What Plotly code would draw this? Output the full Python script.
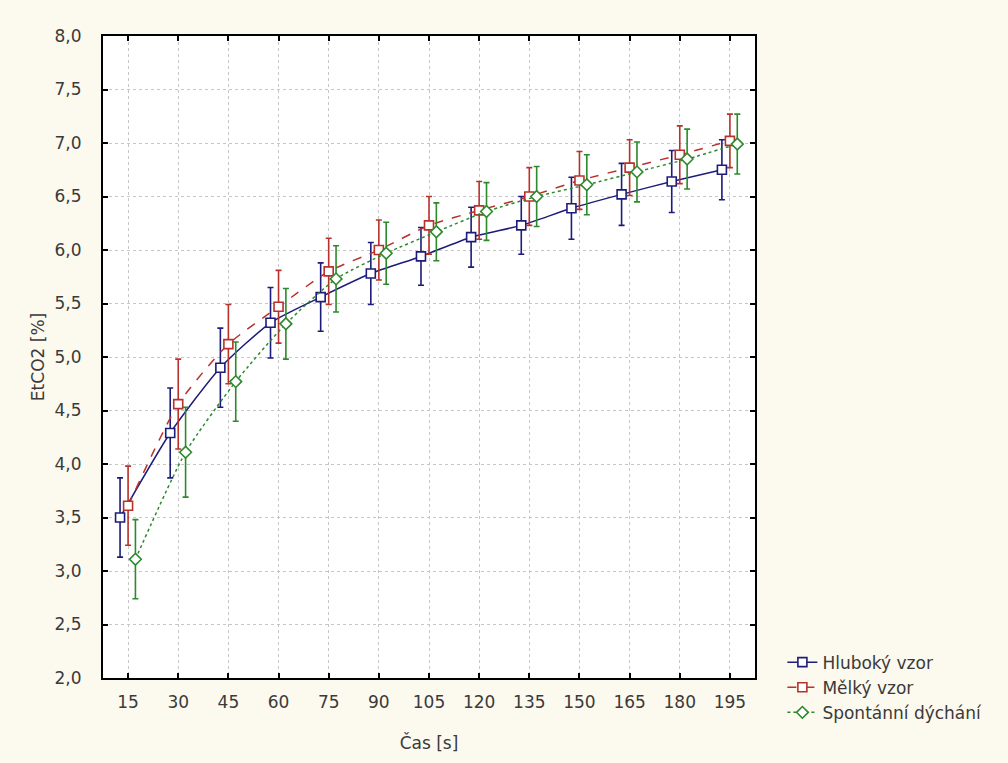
import plotly.graph_objects as go

times = [15, 30, 45, 60, 75, 90, 105, 120, 135, 150, 165, 180, 195]

hluboky = [3.50, 4.29, 4.90, 5.32, 5.56, 5.78, 5.94, 6.12, 6.23, 6.39, 6.52, 6.64, 6.75]
hluboky_err = [0.37, 0.42, 0.37, 0.33, 0.32, 0.29, 0.27, 0.28, 0.27, 0.29, 0.29, 0.29, 0.28]

melky = [3.61, 4.56, 5.12, 5.47, 5.80, 6.00, 6.23, 6.37, 6.50, 6.65, 6.77, 6.89, 7.02]
melky_err = [0.37, 0.42, 0.37, 0.34, 0.31, 0.28, 0.27, 0.27, 0.27, 0.27, 0.26, 0.27, 0.25]

spont = [3.11, 4.11, 4.77, 5.31, 5.73, 5.97, 6.17, 6.36, 6.50, 6.61, 6.73, 6.85, 6.99]
spont_err = [0.37, 0.42, 0.37, 0.33, 0.31, 0.29, 0.27, 0.27, 0.28, 0.28, 0.28, 0.28, 0.28]

y_ticks = [2.0, 2.5, 3.0, 3.5, 4.0, 4.5, 5.0, 5.5, 6.0, 6.5, 7.0, 7.5, 8.0]
y_tick_labels = ["2,0", "2,5", "3,0", "3,5", "4,0", "4,5", "5,0", "5,5", "6,0", "6,5", "7,0", "7,5", "8,0"]

series = [
    ("Hluboký vzor", hluboky, hluboky_err, "#1c1c7a", "solid", "square", -2.4),
    ("Mělký vzor", melky, melky_err, "#b8322c", "dash", "square", 0.0),
    ("Spontánní dýchání", spont, spont_err, "#2c8a2c", "dot", "diamond", 2.2),
]

fig = go.Figure()
for name, vals, errs, color, dash, symbol, off in series:
    fig.add_trace(go.Scatter(
        x=[t + off for t in times],
        y=vals,
        name=name,
        mode="lines+markers",
        line=dict(color=color, width=1.5, dash=dash, shape="spline", smoothing=0.6),
        marker=dict(symbol=symbol, size=9, color="#ffffff", line=dict(width=1.6, color=color)),
        error_y=dict(type="data", array=errs, visible=True, color=color, thickness=1.6, width=3),
    ))

fig.update_layout(
    width=1008, height=763,
    paper_bgcolor="#fcf9ee",
    plot_bgcolor="#ffffff",
    margin=dict(l=103, r=253, t=36, b=85, autoexpand=False),
    font=dict(family="DejaVu Sans, sans-serif", size=17, color="#3a3a3a"),
    showlegend=True,
    legend=dict(
        x=1.042, y=0.052, xanchor="left", yanchor="top",
        bgcolor="rgba(0,0,0,0)", font=dict(size=17, color="#3a3a3a"),
        itemwidth=30,
    ),
)

fig.update_xaxes(
    range=[7.5, 202.5], autorange=False,
    tickmode="array", tickvals=times, ticktext=[str(t) for t in times],
    tickfont=dict(size=17), ticklabelstandoff=8,
    showgrid=True, gridcolor="#c6c6c6", griddash="dot", gridwidth=1,
    showline=True, linecolor="#000000", linewidth=2, mirror="ticks",
    ticks="inside", ticklen=5, tickcolor="#000000", tickwidth=2,
    zeroline=False,
    title=dict(text="Čas [s]", font=dict(size=17), standoff=26),
)
fig.update_yaxes(
    range=[2.0, 8.0], autorange=False,
    tickmode="array", tickvals=y_ticks, ticktext=y_tick_labels,
    tickfont=dict(size=17), ticklabelstandoff=16,
    showgrid=True, gridcolor="#c6c6c6", griddash="dot", gridwidth=1,
    showline=True, linecolor="#000000", linewidth=2, mirror="ticks",
    ticks="inside", ticklen=5, tickcolor="#000000", tickwidth=2,
    zeroline=False,
    title=dict(text="EtCO2 [%]", font=dict(size=17), standoff=6),
)

fig.write_html(
    "out.html",
    config={"displayModeBar": False},
    post_script="document.body.style.margin='0';document.body.style.background='#fcf9ee';",
)
